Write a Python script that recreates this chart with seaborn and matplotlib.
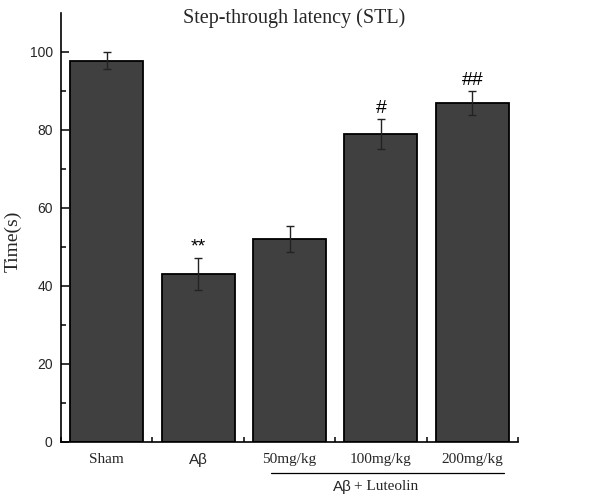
import matplotlib
matplotlib.use("Agg")
import matplotlib.pyplot as plt
import seaborn as sns
import pandas as pd
import numpy as np
from matplotlib.ticker import FixedLocator

groups = ["Sham", "Aβ", "50mg/kg", "100mg/kg", "200mg/kg"]
means = [97.8, 43.0, 52.0, 79.0, 86.9]
errs = [2.1, 4.2, 3.3, 3.9, 3.1]
marks = ["", "**", "", "#", "##"]
title = "Step-through latency (STL)"
ylabel = "Time(s)"
group_label_a = "Aβ"
group_label_b = "+ Luteolin"

sns.set_theme(style="white")
plt.rcParams['font.family'] = ['Liberation Serif', 'DejaVu Serif']

df = pd.DataFrame({"group": groups, "time": means})

fig = plt.figure(figsize=(6.0, 4.97), dpi=100)
ax = fig.add_axes([61/600, 1 - 441.7/497, (518-61)/600, (441.7-13)/497])

sns.barplot(data=df, x="group", y="time", order=groups, color="#404040",
            saturation=1, width=0.8, edgecolor="black", linewidth=1.3,
            errorbar=None, ax=ax)
xs = np.arange(len(groups))
ax.errorbar(xs, means, yerr=errs, fmt="none", ecolor="#222222",
            elinewidth=1.0, capsize=2.6, capthick=1.0, zorder=3)

for x, m, e, s in zip(xs, means, errs, marks):
    if s:
        ax.text(x, m + e + 0.5, s, ha="center", va="bottom",
                fontsize=14, family="Liberation Sans", color="black")

ax.set_xlim(-0.5, len(groups) - 0.5)
ax.set_ylim(0, 110)
ax.yaxis.set_major_locator(FixedLocator([0, 20, 40, 60, 80, 100]))
ax.yaxis.set_minor_locator(FixedLocator([10, 30, 50, 70, 90]))
ax.xaxis.set_minor_locator(FixedLocator(np.arange(-0.5, len(groups), 1.0)))

for side in ["top", "right"]:
    ax.spines[side].set_visible(False)
for side in ["left", "bottom"]:
    ax.spines[side].set_color("black")
    ax.spines[side].set_linewidth(1.2)

ax.tick_params(axis="both", which="major", direction="in", length=6,
               width=1.1, color="black")
ax.tick_params(axis="both", which="minor", direction="in", length=3.5,
               width=1.1, color="black")
ax.tick_params(axis="y", which="major", pad=6, labelsize=10)
ax.tick_params(axis="x", which="major", pad=8, labelsize=11)
ax.tick_params(axis="both", which="both", left=True, bottom=True)

for lab in ax.get_yticklabels():
    lab.set_family("Liberation Sans")
for lab in ax.get_xticklabels():
    lab.set_family("Liberation Serif")
    if lab.get_text() == "Aβ":
        lab.set_family("Liberation Sans")

ax.set_xlabel("")
ax.set_ylabel("")
fig.text(13/600, 1 - 241/497, ylabel, rotation=90, ha="center", va="center",
         fontsize=14, family="Liberation Serif")
fig.text(294/600, 1 - 18/497, title, ha="center", va="center",
         fontsize=14.5, family="Liberation Serif")

# group bracket under 50-200 mg/kg
trans = ax.get_xaxis_transform()
ax.plot([1.8, 4.35], [-0.073, -0.073], transform=trans, color="black",
        linewidth=0.9, clip_on=False)
fig.text(352/600, 1 - 487/497, group_label_a, ha="right", va="center",
         fontsize=11, family="Liberation Sans")
fig.text(354/600, 1 - 487/497, group_label_b, ha="left", va="center",
         fontsize=11, family="Liberation Serif")

fig.savefig("out.png", dpi=100)
